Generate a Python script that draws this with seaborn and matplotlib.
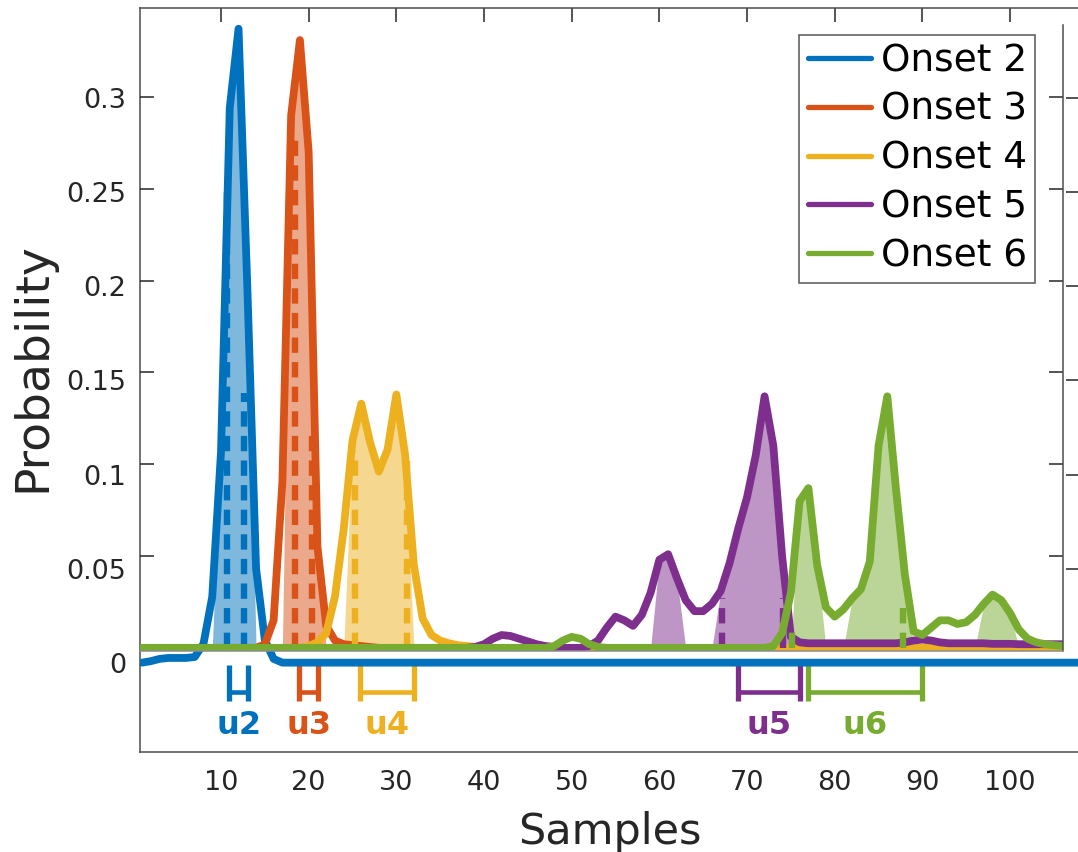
import numpy as np
import pandas as pd
import matplotlib
matplotlib.use("Agg")
import matplotlib.pyplot as plt
from matplotlib.lines import Line2D
import seaborn as sns

# ---------------- data ----------------
samples_outer = list(range(1, 109))
samples = list(range(1, 107))

onset2 = [0.0, 0.0008, 0.002, 0.0025, 0.0025, 0.0025, 0.003, 0.01, 0.035, 0.112,
          0.295, 0.337, 0.2, 0.05, 0.012, 0.002, 0.0, 0.0, 0.0, 0.0,
          0.0, 0.0, 0.0, 0.0, 0.0, 0.0, 0.0, 0.0, 0.0, 0.0,
          0.0, 0.0, 0.0, 0.0, 0.0, 0.0, 0.0, 0.0, 0.0, 0.0,
          0.0, 0.0, 0.0, 0.0, 0.0, 0.0, 0.0, 0.0, 0.0, 0.0,
          0.0, 0.0, 0.0, 0.0, 0.0, 0.0, 0.0, 0.0, 0.0, 0.0,
          0.0, 0.0, 0.0, 0.0, 0.0, 0.0, 0.0, 0.0, 0.0, 0.0,
          0.0, 0.0, 0.0, 0.0, 0.0, 0.0, 0.0, 0.0, 0.0, 0.0,
          0.0, 0.0, 0.0, 0.0, 0.0, 0.0, 0.0, 0.0, 0.0, 0.0,
          0.0, 0.0, 0.0, 0.0, 0.0, 0.0, 0.0, 0.0, 0.0, 0.0,
          0.0, 0.0, 0.0, 0.0, 0.0, 0.0, 0.0, 0.0]

onset3 = [0.0, 0.0, 0.0, 0.0, 0.0, 0.0, 0.0, 0.0, 0.0, 0.0,
          0.0, 0.0, 0.0, 0.0, 0.002, 0.015, 0.09, 0.29, 0.331, 0.27,
          0.055, 0.012, 0.004, 0.002, 0.0015, 0.001, 0.0005, 0.0, 0.0, 0.0,
          0.0, 0.0, 0.0, 0.0, 0.0, 0.0, 0.0, 0.0, 0.0, 0.0,
          0.0, 0.0, 0.0, 0.0, 0.0, 0.0, 0.0, 0.0, 0.0, 0.0,
          0.0, 0.0, 0.0, 0.0, 0.0, 0.0, 0.0, 0.0, 0.0, 0.0,
          0.0, 0.0, 0.0, 0.0, 0.0, 0.0, 0.0, 0.0, 0.0, 0.0,
          0.0, 0.0, 0.0, 0.0, 0.0, 0.0, 0.0, 0.0, 0.0, 0.0,
          0.0, 0.0, 0.0, 0.0, 0.0, 0.0, 0.0, 0.0, 0.0, 0.0,
          0.0, 0.0, 0.0, 0.0, 0.0, 0.0, 0.0, 0.0, 0.0, 0.0,
          0.0, 0.0, 0.0, 0.0, 0.0, 0.0]

onset4 = [0.0, 0.0, 0.0, 0.0, 0.0, 0.0, 0.0, 0.0, 0.0, 0.0,
          0.0, 0.0, 0.0, 0.0, 0.0, 0.0, 0.0, 0.0, 0.0, 0.001,
          0.003, 0.008, 0.028, 0.065, 0.113, 0.133, 0.112, 0.096, 0.108, 0.138,
          0.105, 0.045, 0.016, 0.007, 0.004, 0.0025, 0.0015, 0.001, 0.0005, 0.0,
          0.0, 0.0, 0.0, 0.0, 0.0, 0.0, 0.0, 0.0, 0.0, 0.0,
          0.0, 0.0, 0.0, 0.0, 0.0, 0.0, 0.0, 0.0, 0.0, 0.0,
          0.0, 0.0, 0.0, 0.0, 0.0, 0.0, 0.0, 0.0, 0.0, 0.0,
          0.0, 0.0, 0.0, 0.0, 0.0, 0.0, 0.0, 0.0, 0.0, 0.0,
          0.0, 0.0, 0.0, 0.0, 0.0, 0.0, 0.0, 0.0, 0.0, 0.0,
          0.0, 0.0, 0.0, 0.0, 0.0, 0.0, 0.0, 0.0, 0.0, 0.0,
          0.0, 0.0, 0.0, 0.0, 0.0, 0.0]

onset5 = [0.0, 0.0, 0.0, 0.0, 0.0, 0.0, 0.0, 0.0, 0.0, 0.0,
          0.0, 0.0, 0.0, 0.0, 0.0, 0.0, 0.0, 0.0, 0.0, 0.0,
          0.0, 0.0, 0.0, 0.0, 0.0, 0.0, 0.0, 0.0, 0.0, 0.0,
          0.0, 0.0, 0.0, 0.0, 0.0, 0.0, 0.0, 0.0, 0.0005, 0.002,
          0.005, 0.007, 0.0065, 0.005, 0.0035, 0.002, 0.001, 0.0005, 0.0, 0.0,
          0.0, 0.001, 0.004, 0.011, 0.017, 0.015, 0.012, 0.018, 0.03, 0.048,
          0.051, 0.038, 0.026, 0.02, 0.02, 0.024, 0.031, 0.046, 0.065, 0.082,
          0.105, 0.137, 0.11, 0.05, 0.006, 0.003, 0.0025, 0.0025, 0.0025, 0.0025,
          0.0025, 0.0025, 0.0025, 0.0025, 0.0025, 0.0025, 0.0025, 0.003, 0.004, 0.0045,
          0.004, 0.003, 0.0025, 0.0025, 0.0025, 0.0025, 0.0025, 0.0022, 0.0022, 0.0022,
          0.002, 0.002, 0.002, 0.002, 0.002, 0.002]

onset6 = [0.0, 0.0, 0.0, 0.0, 0.0, 0.0, 0.0, 0.0, 0.0, 0.0,
          0.0, 0.0, 0.0, 0.0, 0.0, 0.0, 0.0, 0.0, 0.0, 0.0,
          0.0, 0.0, 0.0, 0.0, 0.0, 0.0, 0.0, 0.0, 0.0, 0.0,
          0.0, 0.0, 0.0, 0.0, 0.0, 0.0, 0.0, 0.0, 0.0, 0.0,
          0.0, 0.0, 0.0, 0.0, 0.0, 0.0, 0.0, 0.001, 0.004, 0.006,
          0.005, 0.002, 0.0005, 0.0, 0.0, 0.0, 0.0, 0.0, 0.0, 0.0,
          0.0, 0.0, 0.0, 0.0, 0.0, 0.0, 0.0, 0.0, 0.0, 0.0,
          0.0, 0.0, 0.001, 0.008, 0.03, 0.08, 0.087, 0.045, 0.022, 0.017,
          0.021, 0.027, 0.032, 0.047, 0.11, 0.137, 0.086, 0.04, 0.009, 0.007,
          0.011, 0.015, 0.015, 0.013, 0.014, 0.018, 0.024, 0.029, 0.026, 0.019,
          0.01, 0.005, 0.003, 0.002, 0.0015, 0.001]

onset_labels = ["Onset 2", "Onset 3", "Onset 4", "Onset 5", "Onset 6"]
colors = ["#0072BD", "#D95319", "#EDB120", "#7E2F8E", "#77AC30"]

# highlighted sample ranges (inclusive) per onset
fill_ranges2 = [(10, 13)]
fill_ranges3 = [(18, 21)]
fill_ranges4 = [(25, 31)]
fill_ranges5 = [(60, 62), (67, 75)]
fill_ranges6 = [(76, 78), (82, 88), (97, 100)]

# dashed markers: sample position and height
dash_x2, dash_h2 = [10.65, 12.6], [0.248, 0.139]
dash_x3, dash_h3 = [18.4, 20.4], [0.28, 0.119]
dash_x4, dash_h4 = [25.3, 31.2], [0.107, 0.102]
dash_x5, dash_h5 = [67.2, 74.1], [0.027, 0.027]
dash_x6, dash_h6 = [75.1, 87.8], [0.0115, 0.025]

# uncertainty brackets
u_labels = ["u2", "u3", "u4", "u5", "u6"]
u_lo = [10.95, 18.9, 25.9, 69.0, 77.0]
u_hi = [13.1, 21.1, 32.0, 76.0, 90.0]

xticks = [10, 20, 30, 40, 50, 60, 70, 80, 90, 100]
yticks = [0, 0.05, 0.1, 0.15, 0.2, 0.25, 0.3]
ytick_labels = ["0", "0.05", "0.1", "0.15", "0.2", "0.25", "0.3"]

# ---------------- figure ----------------
sns.set_theme(style="white")
plt.rcParams["font.family"] = ["DejaVu Sans"]
axcol = "#262626"

W, H = 1078, 852
fig = plt.figure(figsize=(W / 100, H / 100), dpi=100)
ax = fig.add_axes([140 / W, (H - 752) / H, (1080 - 140) / W, (752 - 8) / H])
ax2 = fig.add_axes([140 / W, (H - 651) / H, (1063 - 140) / W, (651 - 25) / H])
ax2.patch.set_alpha(0)

ax.set_xlim(0.76, 107.98)
ax.set_ylim(-0.0475, 0.348)
ax2.set_xlim(0.76, 106.04)
ax2.set_ylim(-0.0017, 0.3392)

curve_lw = 5.6

# Onset 2 line on the outer axes
sns.lineplot(x=samples_outer, y=onset2, ax=ax, color=colors[0], linewidth=curve_lw,
             legend=False, zorder=3)

series = [
    (onset2[:len(samples)], fill_ranges2, dash_x2, dash_h2, False),
    (onset3, fill_ranges3, dash_x3, dash_h3, True),
    (onset4, fill_ranges4, dash_x4, dash_h4, True),
    (onset5, fill_ranges5, dash_x5, dash_h5, True),
    (onset6, fill_ranges6, dash_x6, dash_h6, True),
]
xs = np.array(samples)
for i, (vals, ranges, dx, dh, draw_line) in enumerate(series):
    c = colors[i]
    v = np.array(vals)
    if draw_line:
        sns.lineplot(x=samples, y=vals, ax=ax2, color=c, linewidth=curve_lw,
                     legend=False)
    for (a, b) in ranges:
        mask = (xs >= a) & (xs <= b)
        ax2.fill_between(xs, 0, np.where(mask, v, 0.0), color=c, alpha=0.5,
                         linewidth=0)
    for x0, h in zip(dx, dh):
        ax2.plot([x0, x0], [0, h], color=c, linewidth=4.6,
                 linestyle=(0, (2.4, 1.45)))

# brackets and labels (outer axes)
for lab, lo, hi, c in zip(u_labels, u_lo, u_hi, colors):
    ax.plot([lo, lo], [-0.001, -0.0205], color=c, lw=3.8, solid_capstyle="butt")
    ax.plot([hi, hi], [-0.001, -0.0205], color=c, lw=3.8, solid_capstyle="butt")
    ax.plot([lo, hi], [-0.0156, -0.0156], color=c, lw=3.3, solid_capstyle="butt")
    ax.text((lo + hi) / 2, -0.0335, lab, color=c, fontsize=23, fontweight="bold",
            ha="center", va="center")

# outer axes styling
ax.set_xticks(xticks)
ax.set_yticks(yticks)
ax.set_yticklabels(ytick_labels)
ax.tick_params(axis="both", which="major", direction="in", length=10, width=1.1,
               colors=axcol, labelsize=19.5, top=True, right=True,
               labelcolor=axcol)
ax.tick_params(axis="x", pad=13)
ax.tick_params(axis="y", pad=10)
for s in ax.spines.values():
    s.set_color("#4d4d4d")
    s.set_linewidth(1.1)
ax.set_xlabel("Samples", fontsize=31, color=axcol, labelpad=11)
ax.set_ylabel("Probability", fontsize=34, color=axcol)
ax.yaxis.set_label_coords(-0.09, 0.5175)

# inner axes styling
ax2.set_xticks([])
ax2.set_yticks(yticks)
ax2.set_yticklabels([])
ax2.tick_params(axis="y", direction="in", length=10, width=1.1, colors=axcol,
                left=True, right=True)
ax2.spines["top"].set_visible(False)
ax2.spines["left"].set_visible(False)
ax2.spines["bottom"].set_color("#8c8c8c")
ax2.spines["right"].set_color("#4d4d4d")
for s in ("bottom", "right"):
    ax2.spines[s].set_linewidth(1.1)

handles = [Line2D([], [], color=c, lw=3.8) for c in colors]
leg = ax2.legend(handles, onset_labels, loc="upper right",
                 bbox_to_anchor=(1035 / W, 1 - 35 / H), bbox_transform=fig.transFigure,
                 fontsize=27, handlelength=1.7, handletextpad=0.25, labelspacing=0.34,
                 borderpad=0.22, borderaxespad=0, fancybox=False, framealpha=1,
                 edgecolor="#555555")
leg.get_frame().set_linewidth(1.1)
for t in leg.get_texts():
    t.set_color("black")

fig.savefig("out.png", dpi=100)
